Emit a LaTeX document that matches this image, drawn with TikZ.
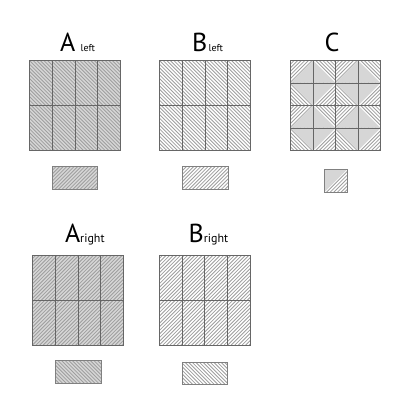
\documentclass[tikz,border=0pt]{standalone}
\usepackage{fontspec}
\setmainfont{PT Sans}

% hatching inside a box: x, y, width, height
\newcommand{\hatchdown}[4]{%
  \begin{scope}
    \clip (#1,#2) rectangle ++(#3,#4);
    \foreach \k in {0,3.6,...,185} \draw[hatch] (#1+\k-#4,#2) -- ++(#4,#4);
  \end{scope}}
\newcommand{\hatchup}[4]{%
  \begin{scope}
    \clip (#1,#2) rectangle ++(#3,#4);
    \foreach \k in {0,3.6,...,185} \draw[hatch] (#1+\k-#4,#2+#4) -- ++(#4,-#4);
  \end{scope}}
% big panel of 4x2 cells: x, y, fill, hatch macro
\newcommand{\rectpanel}[4]{%
  \fill[#3] (#1,#2) rectangle ++(91,90);
  #4{#1}{#2}{91}{90}
  \foreach \i in {1,2,3} \draw[frame] (#1+\i*22.75,#2) -- ++(0,90);
  \draw[frame] (#1,#2+45) -- ++(91,0);
  \draw[frame] (#1,#2) rectangle ++(91,90);}
% small tile: x, y, fill, hatch macro
\newcommand{\recttile}[4]{%
  \fill[#3] (#1,#2) rectangle ++(45.5,22.8);
  #4{#1}{#2}{45.5}{22.8}
  \draw[tileframe] (#1,#2) rectangle ++(45.5,22.8);}

\begin{document}
\begin{tikzpicture}[
        x=1pt, y=-1pt,
        every node/.style={inner sep=0pt, outer sep=0pt, anchor=base west},
        frame/.style={draw=black!60, line width=0.8pt},
        tileframe/.style={draw=black!50, line width=0.7pt},
        hatch/.style={draw=black!38, line width=0.8pt},
        greyfill/.style={fill=black!16},
        nofill/.style={fill=white},
        big/.style={font=\fontsize{26}{26}\selectfont},
    ]
    \useasboundingbox (0,0) rectangle (416,419);
    % Labels
    \node[big] (labAleft) at (60,51.7) {A\hspace{5.5pt}\fontsize{10}{10}\selectfont left};
    \node[big] (labBleft) at (192,51.7) {B\hspace{1.5pt}\fontsize{10}{10}\selectfont left};
    \node[big] (labC) at (324.7,51.7) {C};
    \node[big] (labAright) at (65,242.3) {A\fontsize{12}{12}\selectfont right};
    \node[big] (labBright) at (188.7,242.3) {B\fontsize{12}{12}\selectfont right};
    % Panels
    \rectpanel{29.5}{60.5}{greyfill}{\hatchdown}
    \rectpanel{159.5}{60.5}{nofill}{\hatchdown}
    \rectpanel{32.5}{255}{greyfill}{\hatchup}
    \rectpanel{159.3}{255}{nofill}{\hatchup}
    % Tiles
    \recttile{52.3}{166.7}{greyfill}{\hatchup}
    \recttile{182.7}{166.7}{nofill}{\hatchup}
    \recttile{55.7}{360.7}{greyfill}{\hatchdown}
    \recttile{182.3}{362}{nofill}{\hatchdown}
    % Panel C
    \foreach \r in {0,...,3}
      \foreach \c in {0,...,3} {
        \pgfmathsetmacro\cellx{290.5+22.5*\c}
        \pgfmathsetmacro\celly{60.5+22.5*\r}
        \pgfmathtruncatemacro\rowoff{mod(\r+1,2)}
        \pgfmathtruncatemacro\coloff{mod(\c+1,2)}
        \pgfmathtruncatemacro\parity{mod(\r+\c,2)}
        \ifnum\parity=0 \hatchup{\cellx}{\celly}{22.5}{22.5}\else\hatchdown{\cellx}{\celly}{22.5}{22.5}\fi
        \fill[greyfill] (\cellx+\coloff*22.5,\celly+\rowoff*22.5)
          -- (\cellx+22.5-\coloff*22.5,\celly+\rowoff*22.5)
          -- (\cellx+\coloff*22.5,\celly+22.5-\rowoff*22.5) -- cycle;
      }
    \foreach \i in {1,2,3} {
      \draw[frame] (290.5+\i*22.5,60.5) -- ++(0,90);
      \draw[frame] (290.5,60.5+\i*22.5) -- ++(90,0);
    }
    \draw[frame] (290.5,60.5) rectangle ++(90,90);
    % Tile C
    \hatchup{324.3}{169.3}{23}{23}
    \fill[greyfill] (324.3,169.3) -- (347.3,169.3) -- (324.3,192.3) -- cycle;
    \draw[tileframe] (324.3,169.3) rectangle ++(23,23);
\end{tikzpicture}
\end{document}
